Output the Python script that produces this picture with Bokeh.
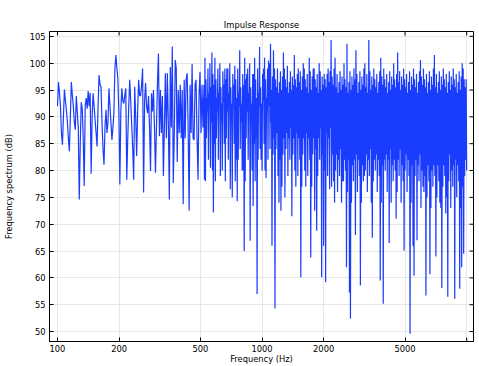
import numpy as np
from bokeh.plotting import figure
from bokeh.models import FixedTicker
from bokeh.embed import file_html
from bokeh.resources import INLINE

# ---- data ----
x_ticks = [100, 200, 500, 1000, 2000, 5000, 10000]
x_tick_labels = ["100", "200", "500", "1000", "2000", "5000"]   # 10000 tick carries no label
y_ticks = [50, 55, 60, 65, 70, 75, 80, 85, 90, 95, 100, 105]
X_RANGE = (91.4, 10800)
Y_RANGE = (48.15, 105.9)

# frequency band edges (Hz): sparse sampling below, dense sampling above
band_edges = [100, 520, 10000]

# spectrum (dB) in the low band, 100 .. 520 Hz
db_low = [
    92.0, 96.5, 94.5, 92, 87, 84.8, 90, 95.1, 93, 91.3,
    89, 86, 83.6, 90, 96.5, 94, 92, 89, 87.6, 93.9,
    91, 88, 74.6, 85, 92.7, 91.5, 86, 77.1, 92, 93.5,
    91.5, 94.8, 92, 94.5, 79.4, 90, 94.4, 92, 89.4, 87,
    84.5, 92, 97.8, 96, 95.6, 88.8, 84, 81.1, 88, 91.3,
    87, 89, 95.3, 92, 89, 85.7, 88, 90.8, 99, 101.5,
    99, 97.2, 90.7, 77.4, 91, 95.3, 93, 92.5, 94, 95.3,
    78.3, 86, 92, 96.9, 93, 88.5, 84, 78.3, 95.6, 90,
    82.7, 91, 96.9, 94, 93.9, 96, 99, 75.9, 93, 96.3,
    92, 90.7, 93.9, 88, 79.9, 94.4, 91, 95, 88, 79.6,
    88, 96.3, 101.8, 86.4, 95, 87, 93.9, 79, 88, 98.1,
    86, 98.1, 89, 74.6, 99.3, 88, 103.1, 77.7, 87, 100.6,
    99, 81.6, 95, 87, 96, 86, 95, 73.7, 96.9, 86,
    97, 98.1, 88, 72.5, 96, 87, 99.9, 86, 85.7, 96,
    96.9, 86, 78.3, 94, 98.4, 87, 96, 88,
]

# spectrum (dB) in the high band, 520 Hz .. 10 kHz
db_high = [
    96, 78.3, 101, 78, 97, 86, 93.5, 91, 99, 82,
    94.5, 92, 100, 80.5, 95.5, 89, 102, 80, 98, 72.2,
    96, 85, 101, 78, 97, 86, 93.5, 91, 99, 82,
    94.5, 92, 100, 79, 95.5, 89, 92.5, 80, 98.5, 93,
    96, 85, 99, 78, 97, 86, 99, 91, 99, 82,
    94.5, 92, 100, 76.5, 95.5, 89, 92.5, 75, 98, 93,
    96, 85, 99.5, 78, 97, 82, 93.5, 74.3, 99, 82,
    94.5, 92, 102.4, 84, 95.5, 89, 92.5, 80, 98, 80,
    96, 65, 101, 78, 97, 86, 98, 91, 99, 82,
    94.5, 92, 100, 66.9, 95.5, 89, 92.5, 80, 98, 73.4,
    98, 85, 101, 78, 97, 86, 93.5, 57, 99, 82,
    94.5, 92, 103, 84, 95.5, 82, 92.5, 80, 98, 93,
    99, 85, 101, 80, 97, 78.6, 93.5, 91, 99, 82,
    100.5, 92, 100, 84, 103.6, 89,
    95, 66, 97.5, 83, 102.4, 86, 99, 54.3,
    97, 84, 95.5, 87, 99, 79, 94.5, 74, 96.5, 82,
    98.5, 72.5, 95, 77, 97.5, 83, 102, 86, 99, 75,
    97, 84, 95.5, 87, 99.5, 79, 94.5, 86, 96.5, 82,
    98.5, 88, 95, 71.5, 97.5, 83, 96, 86, 101.5, 80,
    97, 77, 95.5, 87, 98, 79, 99, 86, 96.5, 82,
    98.5, 60.1, 95, 77, 97.5, 83, 100, 86, 99, 80,
    97, 77, 95.5, 87, 98, 79, 94.5, 86, 101, 82,
    98.5, 63.8, 95, 77, 97.5, 83, 99, 86, 99, 72.5,
    97, 84, 95.5, 68.8, 98, 79, 94.5, 86, 100, 82,
    98.5, 88, 95, 60.1, 97.5, 83, 96, 66, 98, 80,
    97, 59.2, 95.5, 87, 98, 79, 99, 86, 96.5, 76.5,
    98.5, 88, 104.3, 77, 97.5, 83,
    96, 78, 99, 74, 101, 80, 95.5, 83, 98, 76,
    94.5, 82, 96.5, 79, 98.5, 84, 95, 74, 97.5, 78,
    96, 78, 100, 82, 97, 80, 95.5, 62, 103.6, 76,
    94.5, 82, 96.5, 57.3, 98.5, 52.4, 95, 74, 97.5, 81,
    96, 78, 99, 82, 97, 68, 102.4, 83, 98, 76,
    94.5, 82, 96.5, 79, 98.5, 58.6, 95, 74, 97.5, 81,
    96, 78, 99, 79, 100, 80, 95.5, 83, 98, 76,
    94.5, 82, 104.3, 79, 98.5, 84, 95, 74, 97.5, 67.5,
    96, 78, 99, 82, 97, 80, 95.5, 83, 98, 76,
    94.5, 82, 96.5, 79, 98.5, 59.5, 101, 74, 97.5, 81,
    96, 55.2, 99, 82, 97, 80, 95.5, 83, 98, 76,
    94.5, 82, 96.5, 66.5, 98.5, 84, 95, 74, 97.5, 81,
    96, 78, 100, 82, 97, 80, 95.5, 71, 98, 76,
    102, 82, 96.5, 79, 98.5, 84, 95, 74, 97.5, 81,
    96, 78, 99, 65.1, 97, 80, 95.5, 83, 98, 76,
    94.5, 82, 96.5, 79, 98.5, 49.6, 95, 74, 97.5, 81,
    96, 66, 99, 60.4,
    97, 79, 95.5, 82, 98, 67, 94.5, 81, 96.5, 78,
    98.5, 83, 100.6, 73, 97.5, 80, 96, 77, 99, 76,
    97, 79, 95.5, 56.7, 98, 75, 94.5, 81, 96.5, 78,
    98.5, 60.7, 95, 73, 97.5, 80, 96, 77, 99, 81,
    101.5, 79, 95.5, 64, 98, 75, 94.5, 81, 96.5, 78,
    98.5, 74, 95, 73, 97.5, 58.1, 96, 77, 99, 81,
    97, 79, 95.5, 72, 98, 75, 94.5, 56.5, 96.5, 78,
    98.5, 83, 95, 73, 97.5, 80, 96, 77, 99, 81,
    97, 56.1, 95.5, 82, 98, 75, 94.5, 81, 96.5, 78,
    98.5, 58, 95, 73, 97.5, 62, 100, 77, 99, 64.5,
    97, 79, 95.5, 82, 97, 80,
]

freq = np.concatenate([
    np.geomspace(band_edges[0], band_edges[1], len(db_low), endpoint=False),
    np.geomspace(band_edges[1], band_edges[2], len(db_high)),
])
db = db_low + db_high

FONT = "DejaVu Sans"
FS = "8.3px"
LINE_COLOR = "#1a3cff"

p = figure(
    width=479, height=366,
    x_axis_type="log",
    x_range=X_RANGE, y_range=Y_RANGE,
    output_backend="svg", toolbar_location=None,
    min_border_left=46, min_border_right=6, min_border_top=31, min_border_bottom=23,
    title="Impulse Response",
)
p.background_fill_color = "white"
p.border_fill_color = "white"
p.outline_line_color = "black"
p.outline_line_width = 1

p.title.text_font = FONT
p.title.text_font_size = FS
p.title.text_font_style = "normal"
p.title.text_color = "black"
p.title.align = "center"
p.title.standoff = 3

p.line(freq, db, line_color=LINE_COLOR, line_width=1.2)


def style_axis(ax):
    ax.major_tick_in = 4
    ax.major_tick_out = 0
    ax.minor_tick_line_color = None
    ax.axis_line_color = "black"
    ax.major_tick_line_color = "black"
    ax.major_label_text_font = FONT
    ax.major_label_text_font_size = FS
    ax.major_label_text_color = "black"
    ax.axis_label_text_font = FONT
    ax.axis_label_text_font_size = FS
    ax.axis_label_text_font_style = "normal"
    ax.axis_label_text_color = "black"


labelled = x_ticks[:len(x_tick_labels)]
xa = p.xaxis[0]
xa.ticker = FixedTicker(ticks=labelled, minor_ticks=[])
xa.major_label_overrides = {t: l for t, l in zip(labelled, x_tick_labels)}
xa.axis_label = "Frequency (Hz)"
style_axis(xa)
xa.major_label_standoff = 3
xa.axis_label_standoff = -1

ya = p.yaxis[0]
ya.ticker = FixedTicker(ticks=y_ticks, minor_ticks=[])
ya.axis_label = "Frequency spectrum (dB)"
style_axis(ya)
ya.major_label_standoff = 4
ya.axis_label_standoff = 13

# mirrored inward ticks on the top and right frame edges (and the unlabelled 10 kHz tick)
unl = x_ticks[len(x_tick_labels):]
p.scatter(x=x_ticks, y=[Y_RANGE[1]] * len(x_ticks), marker="dash", angle=np.pi / 2,
          size=8, line_color="black", line_width=1)
p.scatter(x=unl, y=[Y_RANGE[0]] * len(unl), marker="dash", angle=np.pi / 2,
          size=8, line_color="black", line_width=1)
p.scatter(x=[X_RANGE[1]] * len(y_ticks), y=y_ticks, marker="dash", angle=0,
          size=8, line_color="black", line_width=1)

p.xgrid.ticker = FixedTicker(ticks=x_ticks, minor_ticks=[])
p.ygrid.ticker = FixedTicker(ticks=y_ticks, minor_ticks=[])
for g in (p.xgrid, p.ygrid):
    g.grid_line_color = "#e6e6e6"
    g.grid_line_width = 1
    g.minor_grid_line_color = None

open("out.html", "w").write(file_html(p, INLINE))
